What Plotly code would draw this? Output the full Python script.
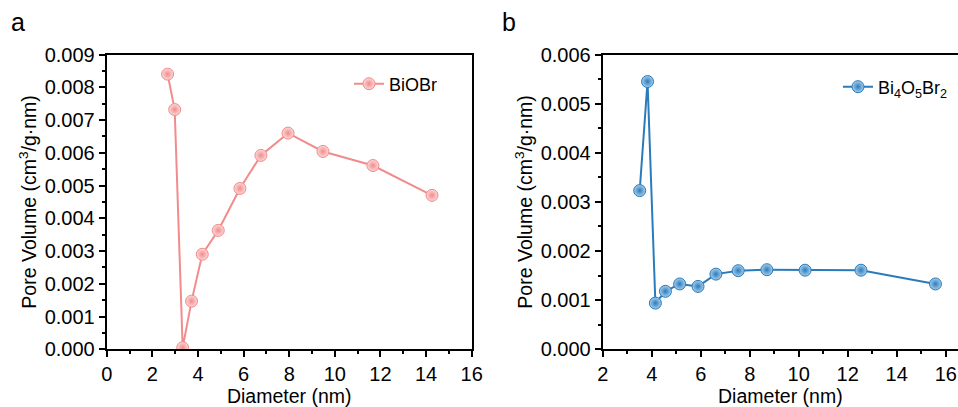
import plotly.graph_objects as go

# BiOBr pore size distribution
d_biobr = [2.67, 2.98, 3.33, 3.72, 4.19, 4.89, 5.84, 6.76, 7.95, 9.48, 11.67, 14.26]
v_biobr = [0.00840, 0.00732, 0.00005, 0.00147, 0.00290, 0.00363, 0.00491,
           0.00592, 0.00660, 0.00604, 0.00561, 0.00470]

# Bi4O5Br2 pore size distribution
d_bi4 = [3.51, 3.83, 4.15, 4.56, 5.14, 5.89, 6.62, 7.53, 8.70, 10.26, 12.54, 15.58]
v_bi4 = [0.00323, 0.00545, 0.00094, 0.00118, 0.00133, 0.00128, 0.00153,
         0.00160, 0.00162, 0.00161, 0.00161, 0.00133]

pink = "#F28B8B"
blue = "#2B7BBA"
font = "Liberation Sans, Arial, sans-serif"

W, H = 958, 407

fig = go.Figure()

fig.add_trace(go.Scatter(
    x=d_biobr, y=v_biobr, mode="lines+markers", name="BiOBr",
    line=dict(color=pink, width=2),
    marker=dict(size=12, color="#FCDADA",
                gradient=dict(type="radial", color=pink),
                line=dict(color=pink, width=1)),
    xaxis="x", yaxis="y", legend="legend",
))
fig.add_trace(go.Scatter(
    x=d_bi4, y=v_bi4, mode="lines+markers",
    name="Bi<sub>4</sub>O<sub>5</sub>Br<sub>2</sub>",
    line=dict(color=blue, width=2),
    marker=dict(size=12, color="#A6CFEE",
                gradient=dict(type="radial", color=blue),
                line=dict(color=blue, width=1)),
    xaxis="x2", yaxis="y2", legend="legend2",
))

ax_common = dict(
    showline=True, linecolor="black", linewidth=2, mirror=True,
    ticks="outside", ticklen=6, tickwidth=2, tickcolor="black",
    showgrid=False, zeroline=False, automargin=False,
    ticklabeloverflow="allow",
    tickfont=dict(size=20, color="black", family=font),
)
minor = dict(ticks="outside", ticklen=3, tickwidth=1.5, tickcolor="black", showgrid=False)
title_font = dict(size=19.5, color="black", family=font)

# plot areas in window pixels: y from 54.5 (top) to 349.3 (bottom)
ydom = [1 - 349.3 / H, 1 - 54.5 / H]

fig.update_layout(
    width=W, height=H,
    margin=dict(l=0, r=0, t=0, b=0),
    paper_bgcolor="white", plot_bgcolor="white",
    font=dict(family=font, color="black"),
    showlegend=True,
    xaxis=dict(domain=[106.7 / W, 471.7 / W], range=[0, 16], dtick=2,
               minor=dict(dtick=1, **minor),
               title=dict(text="Diameter (nm)", standoff=6, font=title_font),
               anchor="y", **ax_common),
    yaxis=dict(domain=ydom, range=[0, 0.009], dtick=0.001, tickformat=".3f",
               minor=dict(dtick=0.0005, **minor),
               title=dict(text="Pore Volume (cm<sup>3</sup>/g·nm)", standoff=3, font=title_font),
               anchor="x", **ax_common),
    xaxis2=dict(domain=[602.7 / W, 1.0], range=[2, 16.5], dtick=2,
                minor=dict(dtick=1, **minor),
                title=dict(text="Diameter (nm)", standoff=6, font=title_font),
                anchor="y2", **ax_common),
    yaxis2=dict(domain=ydom, range=[0, 0.006], dtick=0.001, tickformat=".3f",
                minor=dict(dtick=0.0005, **minor),
                title=dict(text="Pore Volume (cm<sup>3</sup>/g·nm)", standoff=3, font=title_font),
                anchor="x2", **ax_common),
    legend=dict(x=349 / W, y=1 - 84 / H, xanchor="left", yanchor="middle",
                bgcolor="rgba(0,0,0,0)", font=dict(size=18, family=font, color="black")),
    legend2=dict(x=838 / W, y=1 - 87 / H, xanchor="left", yanchor="middle",
                 bgcolor="rgba(0,0,0,0)", font=dict(size=18, family=font, color="black")),
    annotations=[
        dict(text="a", x=18 / W, y=1 - 22 / H, xref="paper", yref="paper",
             xanchor="center", yanchor="middle", showarrow=False,
             font=dict(size=25, family=font, color="black")),
        dict(text="b", x=509 / W, y=1 - 22 / H, xref="paper", yref="paper",
             xanchor="center", yanchor="middle", showarrow=False,
             font=dict(size=25, family=font, color="black")),
    ],
)

# drop the default 8px page margin so the figure fills the window exactly
fig.write_html("out.html", config={"displayModeBar": False},
               post_script="document.body.style.margin='0';document.body.style.overflow='hidden';")
